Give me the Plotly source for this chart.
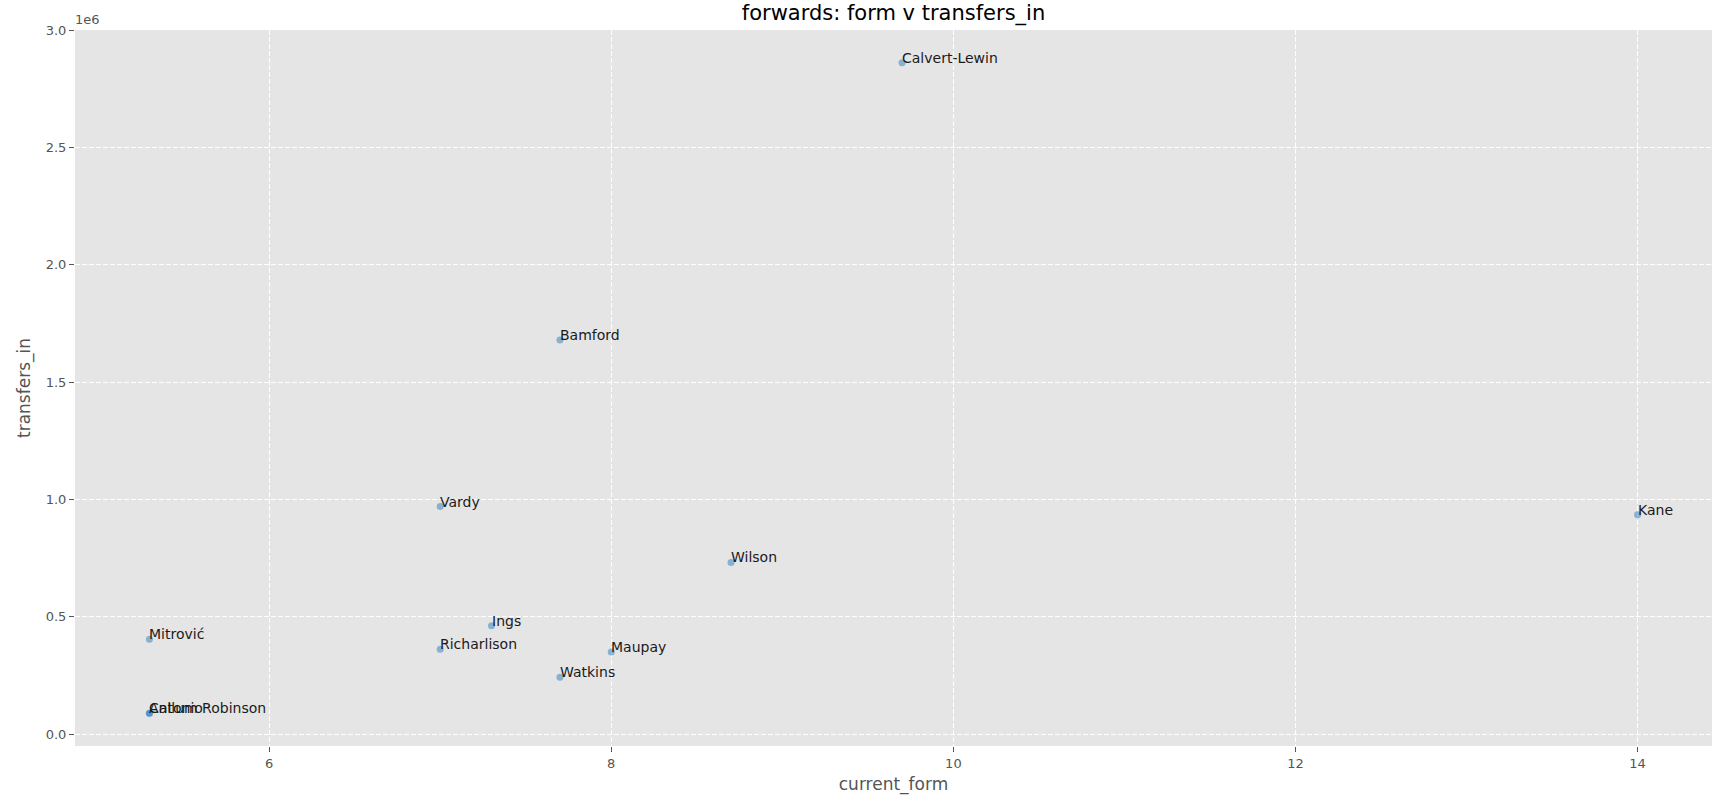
import plotly.graph_objects as go

# forwards: current form vs transfers in
players = ["Calvert-Lewin", "Bamford", "Vardy", "Kane", "Wilson", "Ings",
           "Mitrović", "Richarlison", "Maupay", "Watkins", "Antonio", "Callum Robinson"]
current_form = [9.7, 7.7, 7.0, 14.0, 8.7, 7.3, 5.3, 7.0, 8.0, 7.7, 5.3, 5.3]
transfers_in = [2860000, 1680000, 970000, 935000, 732000, 462000,
                405000, 362000, 350000, 243000, 90000, 89000]

y_ticks = [0, 500000, 1000000, 1500000, 2000000, 2500000, 3000000]
y_tick_labels = ["0.0", "0.5", "1.0", "1.5", "2.0", "2.5", "3.0"]
x_ticks = [6, 8, 10, 12, 14]

grey = "#555555"
font = "DejaVu Sans"

fig = go.Figure()
fig.add_trace(go.Scatter(
    x=current_form, y=transfers_in, mode="markers",
    marker=dict(size=7, color="rgba(40,125,190,0.5)", line=dict(width=0)),
    hoverinfo="text", text=players, showlegend=False,
))

# name labels, left edge at the point like plt.text
for name, x, y in zip(players, current_form, transfers_in):
    fig.add_annotation(x=x, y=y, text=name, showarrow=False,
                       xanchor="left", yanchor="bottom", yshift=-4, xshift=-1,
                       borderpad=0, font=dict(family=font, size=14, color="#1a1a1a"))

# offset text of the y axis
fig.add_annotation(x=0, y=1, xref="paper", yref="paper", text="1e6", showarrow=False,
                   xanchor="left", yanchor="bottom", yshift=1, xshift=-2,
                   font=dict(family=font, size=13, color=grey))

axis_common = dict(
    showgrid=True, gridcolor="white", griddash="5px,2px", gridwidth=1,
    zeroline=False, showline=False, automargin=False,
    ticks="outside", ticklen=5, tickcolor=grey, tickwidth=1,
    tickfont=dict(family=font, size=13, color=grey),
)

fig.update_xaxes(range=[4.865, 14.435], tickvals=x_ticks,
                 title=dict(text="current_form", standoff=8,
                            font=dict(family=font, size=17, color=grey)),
                 **axis_common)
fig.update_yaxes(range=[-50000, 3000000], tickvals=y_ticks, ticktext=y_tick_labels,
                 title=dict(text="transfers_in", standoff=10,
                            font=dict(family=font, size=17, color=grey)),
                 **axis_common)

fig.update_layout(
    width=1722, height=804,
    margin=dict(l=75, r=10, t=30, b=58),
    plot_bgcolor="#E5E5E5", paper_bgcolor="white",
    title=dict(text="forwards: form v transfers_in", x=0.5, xref="paper",
               y=1 - 13 / 804, yref="container", yanchor="middle",
               font=dict(family=font, size=21, color="black")),
    font=dict(family=font),
)

# page default margin would push the figure off by 8px
fig.write_html("out.html", config={"displayModeBar": False},
               post_script="document.body.style.margin = '0';")
